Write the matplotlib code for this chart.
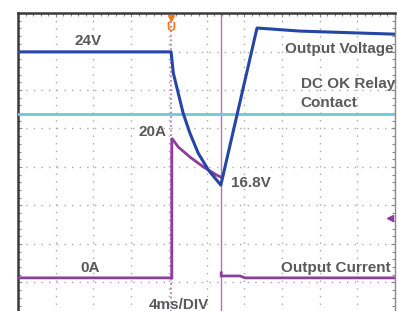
#!/usr/bin/env python3
"""Scope capture: output voltage / current drop with DC OK relay contact."""

import matplotlib

matplotlib.use("Agg")
import matplotlib.pyplot as plt
from matplotlib.ticker import MultipleLocator

nan = float("nan")

# screen units: x in divisions (4 ms/div), y in divisions from bottom of screen
volt_t = [0.0, 4.06, 4.12, 4.25, 4.38, 4.56, 4.78, 5.05, 5.38, 6.34, 7.48, 10.0]
volt_y = [6.99, 6.99, 6.44, 5.92, 5.40, 4.88, 4.36, 3.92, 3.53, 7.61, 7.53, 7.45]

# the drop back to 0 A hides behind the cursor line, so the trace is split
curr_t = [0.0, 4.08, 4.08, 4.25, 4.56, 4.92, 5.27, 5.38, nan,
          5.39, 5.39, 5.49, 5.89, 6.02, 10.0]
curr_y = [1.12, 1.12, 4.75, 4.52, 4.26, 4.00, 3.79, 3.74, nan,
          1.25, 1.17, 1.17, 1.17, 1.12, 1.12]

relay_y = 5.38        # DC OK relay contact level
trigger_t = 4.05      # trigger position
cursor_t = 5.38       # cursor at voltage minimum

# label, x, y (baseline), horizontal alignment
labels = [
    ("24V", 1.86, 7.17, "center"),
    ("20A", 3.58, 4.81, "center"),
    ("Output Voltage", 9.95, 6.97, "right"),
    ("DC OK Relay", 7.50, 6.06, "left"),
    ("Contact", 7.50, 5.55, "left"),
    ("16.8V", 5.65, 3.47, "left"),
    ("Output Current", 9.89, 1.26, "right"),
    ("0A", 1.90, 1.26, "center"),
    ("4ms/DIV", 3.47, 0.30, "left"),
]

BLUE = "#2646a6"
CYAN = "#72c9d6"
PURPLE = "#8e3d9c"
CURSOR = "#a878bf"
ORANGE = "#f07a1e"
TEXT = "#5a5a5a"
GRID = "#a8a8a8"

W, H, DPI = 398, 311, 100
fig = plt.figure(figsize=(W / DPI, H / DPI), dpi=DPI)
fig.patch.set_facecolor("white")
# screen box runs past the bottom edge of the capture
ax = fig.add_axes([18 / W, 1 - 321 / H, (395 - 18) / W, 308 / H])
ax.set_xlim(0, 10)
ax.set_ylim(0, 8)
ax.set_facecolor("white")

for side in ("left", "top"):
    ax.spines[side].set_color("#3a3a3a")
    ax.spines[side].set_linewidth(1.8)
for side in ("right", "bottom"):
    ax.spines[side].set_color("#8a8a8a")
    ax.spines[side].set_linewidth(1.0)

ax.xaxis.set_major_locator(MultipleLocator(1))
ax.yaxis.set_major_locator(MultipleLocator(1))
ax.xaxis.set_minor_locator(MultipleLocator(0.2))
ax.yaxis.set_minor_locator(MultipleLocator(0.2))
ax.tick_params(which="both", direction="in", top=True, right=True,
               labelbottom=False, labelleft=False, color="#888888")
ax.tick_params(which="major", length=3, width=0.8)
ax.tick_params(which="minor", length=2.5, width=0.8)

# dotted graticule
for k in range(1, 10):
    ax.axvline(k, color=GRID, linewidth=1.0, linestyle=(0, (1, 4.5)), zorder=1)
for k in range(1, 8):
    ax.axhline(k, color=GRID, linewidth=1.0, linestyle=(0, (1, 4.5)), zorder=1)

ax.axvline(trigger_t, color="#b57cc6", linewidth=1.3,
           linestyle=(0, (1, 1.5)), zorder=2)
ax.axvline(cursor_t, color=CURSOR, linewidth=1.0, zorder=2)

ax.axhline(relay_y, color=CYAN, linewidth=2.0, zorder=3)
ax.plot(curr_t, curr_y, color=PURPLE, linewidth=2.0, zorder=4,
        solid_joinstyle="miter")
ax.plot(volt_t, volt_y, color=BLUE, linewidth=2.2, zorder=5)

# trigger flag at top and level marker at right edge
ax.plot([trigger_t], [7.86], marker="v", color=ORANGE, markersize=4.5,
        linestyle="none", zorder=6, clip_on=False)
ax.text(trigger_t, 7.62, "U", color=ORANGE, fontsize=9, fontweight="bold",
        ha="center", va="center", family="Liberation Sans", zorder=6)
ax.plot([9.86], [2.68], marker="<", color=PURPLE, markersize=5,
        linestyle="none", zorder=6)

for text, x, y, ha in labels:
    ax.text(x, y, text, color=TEXT, fontsize=11, fontweight="bold",
            ha=ha, va="baseline", family="Liberation Sans", zorder=7)

fig.savefig("out.png", dpi=DPI, facecolor="white")
